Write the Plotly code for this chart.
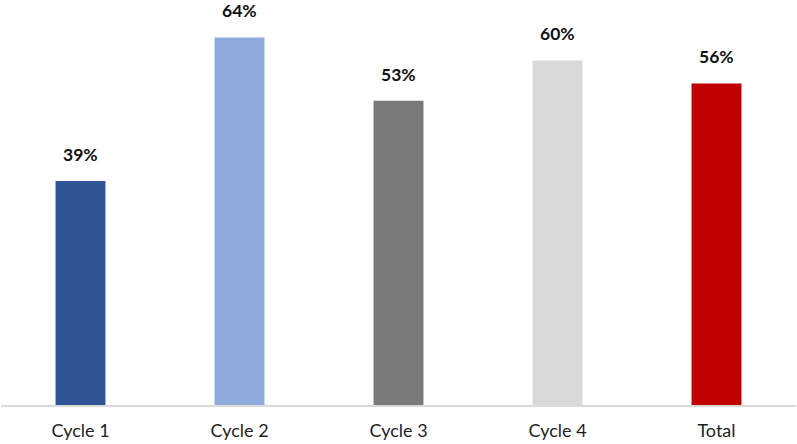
import plotly.graph_objects as go

categories = ["Cycle 1", "Cycle 2", "Cycle 3", "Cycle 4", "Total"]
values = [39, 64, 53, 60, 56]
labels = ["39%", "64%", "53%", "60%", "56%"]
colors = ["#2F5597", "#8FAADC", "#7A7A7A", "#D9D9D9", "#C00000"]

fig = go.Figure()
fig.add_trace(go.Bar(
    x=categories, y=values, marker=dict(color=colors, line=dict(width=0)),
    hoverinfo="skip",
))
for c, v, t in zip(categories, values, labels):
    fig.add_annotation(x=c, y=v, text="<b>" + t + "</b>", showarrow=False,
                       yanchor="bottom", yshift=14,
                       font=dict(family="Lato", size=17.5, color="#111111"))

fig.update_layout(
    width=797, height=444,
    margin=dict(l=1, r=1, t=3, b=39),
    paper_bgcolor="white", plot_bgcolor="white",
    bargap=0.686, showlegend=False,
    xaxis=dict(showline=True, linecolor="#D9D9D9", linewidth=1.5,
               showgrid=False, ticks="", automargin=False,
               ticklabelstandoff=9,
               tickfont=dict(family="Lato", size=18, color="#1E1E1E")),
    yaxis=dict(range=[0, 70], visible=False, showgrid=False),
)
fig.write_html("out.html", config={"displayModeBar": False},
               post_script="document.body.style.margin='0';")
